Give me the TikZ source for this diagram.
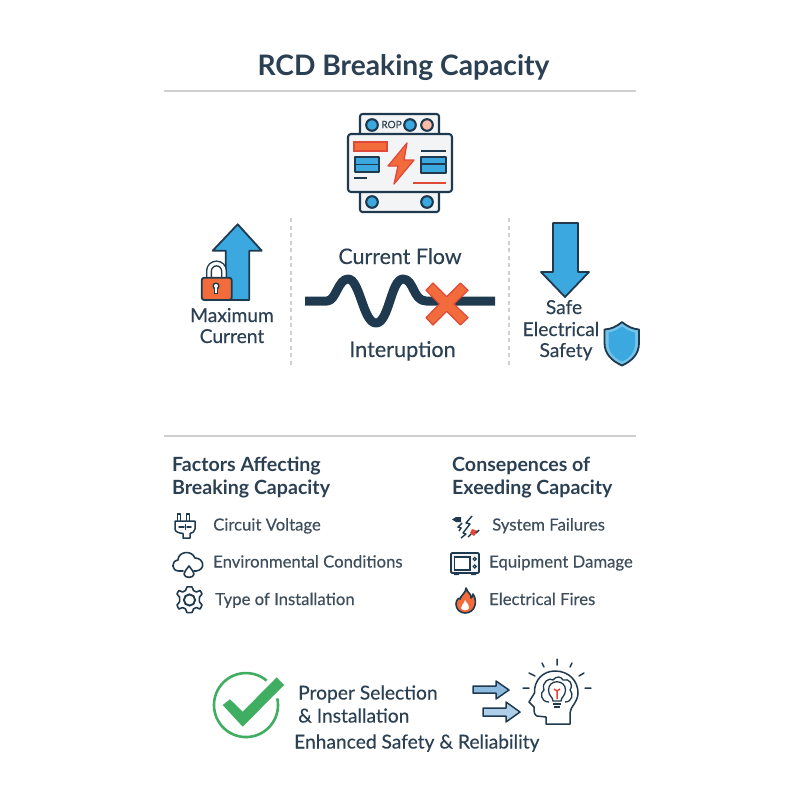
\documentclass[tikz,border=0pt]{standalone}
\usepackage{fontspec}
\setmainfont{Lato}
\newfontfamily\medf{Lato}[FakeBold=0.3]
\usetikzlibrary{calc}
\definecolor{navy}{HTML}{1F3A4F}
\definecolor{ink}{HTML}{2B4052}
\definecolor{soft}{HTML}{3E4E5C}
\definecolor{skyb}{HTML}{3BA9E0}
\definecolor{orng}{HTML}{F26B3A}
\definecolor{redl}{HTML}{E0483A}
\definecolor{grn}{HTML}{3FAE60}
\definecolor{rulec}{HTML}{CFCFCF}
\definecolor{panel}{HTML}{F2F4F6}
\definecolor{paleb}{HTML}{8DBBE0}
\tikzset{
  x=1pt,y=-1pt,
  outl/.style={draw=navy,line width=1.8pt,line join=round,line cap=round},
  txtb/.style={inner sep=0pt,font=\fontsize{19.2}{19.2}\medf,text=ink},
  head/.style={inner sep=0pt,anchor=base west,font=\fontsize{19.6}{19.6}\selectfont\bfseries,text=ink},
  item/.style={inner sep=0pt,anchor=base west,font=\fontsize{16.7}{16.7}\medf,text=soft},
  hr/.style={draw=rulec,line width=2pt},
  vdiv/.style={draw=rulec,line width=1.5pt,dash pattern=on 4pt off 3.5pt},
}
\begin{document}
\begin{tikzpicture}
\useasboundingbox[fill=white] (0,0) rectangle (800,800);
\node[inner sep=0pt,anchor=base,font=\fontsize{28.2}{28.2}\selectfont\bfseries,text=ink] (title) at (403.5,75.5) {RCD Breaking Capacity};
\coordinate (r1a) at (164,91); \coordinate (r1b) at (636,91);
\draw[hr] (r1a) -- (r1b);
\coordinate (r2a) at (164,436); \coordinate (r2b) at (636,436);
\draw[hr] (r2a) -- (r2b);
\coordinate (d1a) at (291,218); \coordinate (d1b) at (291,367);
\draw[vdiv] (d1a) -- (d1b);
\coordinate (d2a) at (509,218); \coordinate (d2b) at (509,367);
\draw[vdiv] (d2a) -- (d2b);
% --- breaker
\begin{scope}[outl/.append style={line width=2.1pt}]
\draw[outl,fill=panel,rounded corners=2.5pt] (360,114) rectangle (439,140);
\draw[outl,fill=panel,rounded corners=2.5pt] (360,186) rectangle (439,212);
\draw[outl,fill=panel,rounded corners=3pt] (348,134) rectangle (452,192);
\foreach \p/\c in {372/skyb,410/skyb,427/orng!45!white}{\draw[outl,fill=\c] (\p,125) circle (5.8);}
\foreach \p in {372,427}{\draw[outl,fill=skyb] (\p,202) circle (5.8);}
\node[inner sep=0pt,font=\fontsize{10}{10}\medf,text=ink] (rop) at (391.5,124.5) {ROP};
\draw[draw=redl,line width=1.2pt,fill=orng] (354,142) rectangle (387,151);
\draw[outl,fill=skyb] (355,157) rectangle (379,172);
\draw[navy,line width=1.6pt] (355,164.5) -- (379,164.5);
\draw[navy,line width=1.6pt] (354,178) -- (367,178);
\draw[navy,line width=1.6pt] (421,151) -- (446,151);
\draw[outl,fill=skyb] (421,157) rectangle (446,173);
\draw[navy,line width=1.6pt] (421,164) -- (446,164);
\draw[redl,line width=1.6pt] (413,183) -- (446,183);
\draw[draw=redl,line width=1.3pt,fill=orng,line join=round] (407,143) -- (388,166) -- (398,166) -- (394,184) -- (414,160) -- (404,160) -- cycle;
\end{scope}
% --- up arrow and lock
\draw[outl,fill=skyb] (237.7,224.3) -- (261.7,250.7) -- (249.3,250.7) -- (249.3,300) -- (225.7,300) -- (225.7,250.7) -- (212.7,250.7) -- cycle;
\draw[navy,line width=6pt] (209,279) -- (209,271) arc[start angle=180,end angle=360,radius=7.5] -- (224,279);
\draw[white,line width=3.2pt] (209,279) -- (209,271) arc[start angle=180,end angle=360,radius=7.5] -- (224,279);
\draw[outl,fill=orng,rounded corners=2.5pt] (201.7,277.7) rectangle (231.7,300);
\fill[navy] (216,286) circle (3.6);
\fill[navy] (214.2,287) rectangle (217.8,294);
\fill[white] (216,286) circle (2);
\fill[white] (215.2,287) rectangle (216.8,292.5);
\node[txtb,anchor=base] (maxa) at (232,322) {Maximum};
\node[txtb,anchor=base] (maxb) at (232,343) {Current};
% --- wave
\node[txtb,anchor=base,font=\fontsize{21.4}{21.4}\medf] (flow) at (400,264) {Current Flow};
\node[txtb,anchor=base,font=\fontsize{21.6}{21.6}\medf] (intr) at (402.5,357) {Interuption};
\draw[navy,line width=9pt,line join=round] (305,301) -- (327,301) .. controls (336,301) and (338,279) .. (348,279) .. controls (360,279) and (363,323) .. (376,323) .. controls (389,323) and (391,279) .. (403,279) .. controls (414,279) and (413,301) .. (426,301) -- (495,301);
\draw[draw=redl,line width=1.2pt,fill=orng,line join=round] (433,283) -- (446.7,296.7) -- (460.4,283) -- (468,290.3) -- (454,304) -- (468,317.7) -- (460.4,325) -- (446.7,311.3) -- (433,325) -- (426,317.7) -- (439.4,304) -- (426,290.3) -- cycle;
% --- down arrow and shield
\draw[outl,fill=skyb] (553,223) -- (578,223) -- (578,272) -- (589,272) -- (565,297) -- (541,272) -- (553,272) -- cycle;
\node[txtb,anchor=base] (safea) at (564,314) {Safe};
\node[txtb,anchor=base] (safeb) at (561,336) {Electrical};
\node[txtb,anchor=base] (safec) at (566,357) {Safety};
\draw[outl,fill=skyb!70!white] (622,322) .. controls (628,327) and (633,329) .. (639,329.5) -- (639,343) .. controls (639,354) and (632,361) .. (622,365.5) .. controls (612,361) and (604.5,354) .. (604.5,343) -- (604.5,329.5) .. controls (611,329) and (616,327) .. (622,322) -- cycle;
\fill[skyb] (622,326.5) .. controls (627,330) and (631,332) .. (635,332.5) -- (635,343) .. controls (635,352) and (630,358) .. (622,361.5) .. controls (614,358) and (608.5,352) .. (608.5,343) -- (608.5,332.5) .. controls (613,332) and (617,330) .. (622,326.5) -- cycle;
% --- left column
\node[head] (fa) at (172,471.5) {Factors Affecting};
\node[head] (fb) at (172,494.5) {Breaking Capacity};
\node[item] (i1) at (213,530.5) {Circuit Voltage};
\node[item] (i2) at (213,567.5) {Environmental Conditions};
\node[item] (i3) at (215,605) {Type of Installation};
% plug
\begin{scope}[navy,line width=1.5pt,line join=round,line cap=round]
\draw (177.5,521) -- (177.5,514) -- (180.5,514) -- (180.5,521);
\draw (186.5,521) -- (186.5,514) -- (189.5,514) -- (189.5,521);
\draw (175,521) -- (195,521) -- (195,529) .. controls (195,532) and (192,533) .. (190,533.5) -- (190,538) -- (183,538) -- (183,533.5) .. controls (179,533) and (175,532) .. (175,529) -- cycle;
\draw (179,527) -- (184,527) (187,527) -- (191,527) (185.5,524.5) -- (185.5,529.5);
\end{scope}
% cloud
\draw[navy,line width=1.6pt,line join=round,line cap=round] (183,571) -- (179,571) .. controls (171,571) and (171,561) .. (178,560) .. controls (178,552) and (191,549) .. (195,558) .. controls (204,558) and (206,570) .. (196,571) -- (194,571);
\draw[navy,line width=1.6pt,line join=round] (189,566) .. controls (186,570) and (184,572) .. (184,574) .. controls (184,578.5) and (194,578.5) .. (194,574) .. controls (194,572) and (192,570) .. (189,566) -- cycle;
% gear
\draw[navy,line width=1.6pt,line join=round] plot[smooth cycle,tension=0.2] coordinates {
 (187,587) (192,587) (193.5,590.5) (196.5,592) (200,590.5) (202,594) (199.5,597) (199.5,602) (202,605) (200,609) (196.5,607.5) (193.5,609) (192,612.5) (187,612.5) (185.5,609) (182.5,607.5) (179,609) (177,605) (179.5,602) (179.5,597) (177,594) (179,590.5) (182.5,592) (185.5,590.5)};
\draw[navy,line width=1.9pt] (189.5,600) circle (5.6);
% --- right column
\node[head] (ca) at (452,471.5) {Consepences of};
\node[head] (cb) at (452,494.5) {Exeeding Capacity};
\node[item] (j1) at (492,530.5) {System Failures};
\node[item] (j2) at (489,567.5) {Equipment Damage};
\node[item] (j3) at (489,605) {Electrical Fires};
% failure
\fill[navy] (452,519.5) -- (456,517) -- (461,517) -- (461,522) -- (456,522) -- cycle;
\draw[navy,line width=1.4pt,line join=round] (472,516) -- (466,523) -- (470,524) -- (463,533) -- (466,534) -- (461,538);
\draw[navy,line width=1.4pt] (462,523) -- (458,527) -- (461,528) -- (459,531);
\fill[redl] (472,529) -- (478,531) -- (474,536) -- (470,533) -- cycle;
\draw[navy,line width=1.4pt] (468,537) -- (471,534) (476,533) -- (479,530);
% microwave
\draw[navy,line width=1.8pt,rounded corners=1.2pt,fill=panel] (451,553) rectangle (479,573);
\draw[navy,line width=1.5pt,fill=white] (454.5,557) rectangle (470,570);
\draw[navy,line width=1.2pt] (474.7,559) circle (1.6) (474.7,566.5) circle (1.6);
\fill[navy] (454,573) rectangle (459,575) (471,573) rectangle (476,575);
% flame
\draw[navy,line width=1.6pt,fill=orng,line join=round] (466,588) .. controls (468,594) and (472,594) .. (471,598) .. controls (473,597) and (473,595) .. (473,594) .. controls (476,598) and (475.5,603) .. (475,605) .. controls (474,610) and (470,613) .. (465,613) .. controls (460,613) and (456,609) .. (456,604) .. controls (456,600) and (459,597) .. (460,599) .. controls (461,595) and (466,593) .. (466,588) -- cycle;
\fill[white] (465,600) .. controls (467,604) and (470,605) .. (469,608) .. controls (468,611) and (462,611) .. (461,608) .. controls (461,605) and (464,604) .. (465,600) -- cycle;
% --- check
\draw[grn,line width=2.6pt] (277.3,698.4) arc[start angle=-12,end angle=310,radius=32];
\fill[grn] (222.7,705) -- (230,699.3) -- (242.7,711.7) -- (276.7,677.3) -- (284,685) -- (242.7,726.7) -- cycle;
\node[txtb,anchor=base west] (pa) at (298,699.5) {Proper Selection};
\node[txtb,anchor=base west] (pb) at (298,722.5) {\& Installation};
\node[txtb,anchor=base west] (pc) at (294,748.5) {Enhanced Safety \& Reliability};
% --- bottom arrows
\draw[outl,fill=paleb,line width=1.5pt] (473,686) -- (496,686) -- (496,681) -- (509,690) -- (496,699) -- (496,693) -- (473,693) -- cycle;
\draw[outl,fill=paleb!70!white,line width=1.5pt] (483,708) -- (506,708) -- (506,702) -- (520,712) -- (506,722) -- (506,716) -- (483,716) -- cycle;
% --- head
\draw[navy,line width=1.5pt,line join=round,line cap=round] (546,724) -- (546,717) -- (537,716) .. controls (534,715) and (534,711) .. (534,707) -- (529,702) -- (534.5,693) .. controls (534,680) and (543,671) .. (555,671) .. controls (569,671) and (578,681) .. (578,693) .. controls (578,702) and (570,707) .. (570,713) -- (570,724) -- cycle;
\draw[navy,line width=1.5pt,line cap=round] (557,659) -- (557,665) (542,663) -- (544,667) (572,663) -- (570,667) (529,673) -- (535,676) (584,673) -- (579,676) (523,688) -- (529,688) (585,688) -- (591,688);
\draw[navy,line width=1.3pt,line join=round] (549,702) .. controls (540,702) and (540,692) .. (544,690) .. controls (541,682) and (550,677) .. (553,680) .. controls (556,676) and (561,676) .. (563,680) .. controls (569,678) and (574,684) .. (570,690) .. controls (574,694) and (572,702) .. (565,702);
\draw[navy,line width=1.3pt,fill=white] (553,701) .. controls (553,697) and (548.5,696) .. (548.5,690) .. controls (548.5,679) and (565.5,679) .. (565.5,690) .. controls (565.5,696) and (561,697) .. (561,701) -- cycle;
\draw[navy,line width=1.3pt] (553,704) -- (561,704) (554,707) -- (560,707);
\draw[redl,line width=1.5pt] (557,699) -- (557,691) (554,689) -- (557,691) -- (560,689);
\end{tikzpicture}
\end{document}
